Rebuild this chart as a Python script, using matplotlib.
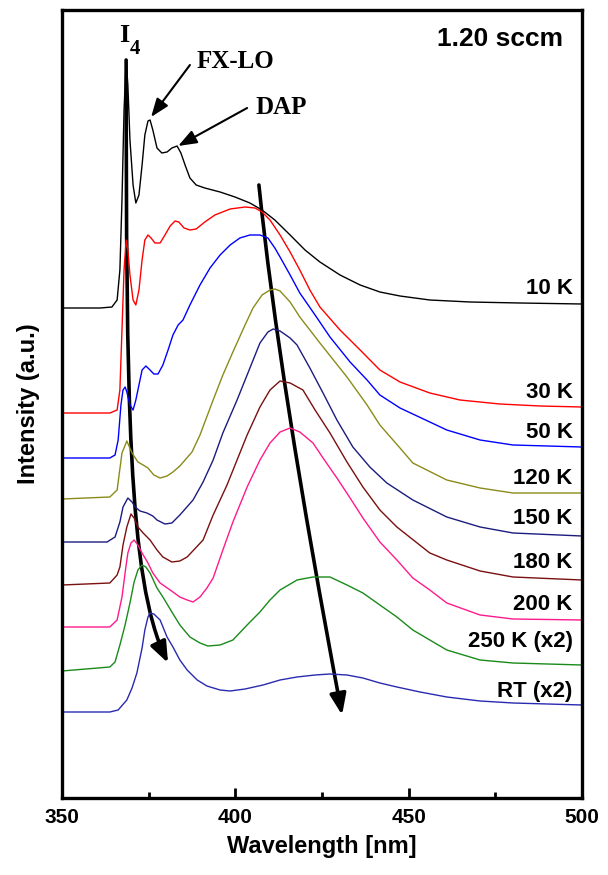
import matplotlib
matplotlib.use("Agg")
import matplotlib.pyplot as plt
from matplotlib.patches import FancyArrowPatch
from matplotlib.path import Path

plt.rcParams['font.family'] = ['Liberation Sans', 'DejaVu Sans']
plt.rcParams['font.weight'] = 'bold'

# PL spectra (wavelength nm, intensity a.u. with vertical offsets)
wl_10k = [350.0, 361.0, 364.4, 365.9, 366.7, 367.3, 367.9, 368.5, 369.0, 369.6, 370.5, 371.3,
          372.2, 373.1, 373.9, 374.8, 375.4, 376.2, 377.4, 378.8, 380.3, 381.7, 383.2, 384.3,
          385.5, 386.9, 388.7, 391.2, 395.6, 399.9, 404.2, 407.7, 411.4, 415.8, 420.1, 424.4,
          430.2, 436.0, 441.7, 447.5, 456.1, 467.7, 482.1, 500.0]
int_10k = [4.89, 4.89, 4.90, 4.97, 5.27, 5.97, 6.87, 7.37, 7.12, 6.57, 6.12, 5.94,
           6.02, 6.32, 6.62, 6.76, 6.77, 6.67, 6.49, 6.44, 6.45, 6.49, 6.51, 6.44,
           6.32, 6.19, 6.12, 6.09, 6.05, 6.00, 5.94, 5.87, 5.77, 5.62, 5.47, 5.35,
           5.22, 5.12, 5.05, 5.01, 4.97, 4.95, 4.94, 4.93]

wl_30k = [350.0, 363.8, 365.9, 366.7, 367.3, 367.9, 368.5, 369.0, 369.6, 370.5, 371.3, 372.2,
          373.1, 373.9, 374.8, 375.7, 376.8, 378.3, 379.7, 381.2, 382.6, 383.7, 385.2, 386.9,
          388.7, 391.2, 394.1, 398.5, 402.8, 405.7, 407.7, 410.0, 412.9, 415.8, 418.6, 421.5,
          424.4, 430.2, 436.0, 441.7, 447.5, 456.1, 464.8, 476.3, 487.9, 500.0]
int_30k = [3.84, 3.84, 3.87, 4.07, 4.67, 5.27, 5.57, 5.47, 5.22, 4.97, 4.92, 5.07,
           5.37, 5.57, 5.62, 5.59, 5.54, 5.54, 5.62, 5.71, 5.76, 5.75, 5.69, 5.67,
           5.68, 5.75, 5.82, 5.88, 5.90, 5.89, 5.85, 5.77, 5.62, 5.45, 5.27, 5.07,
           4.90, 4.67, 4.47, 4.27, 4.15, 4.04, 3.97, 3.93, 3.91, 3.90]

wl_50k = [350.0, 363.8, 365.3, 366.2, 367.0, 367.6, 368.2, 368.7, 369.6, 370.5, 371.3, 372.2,
          373.1, 374.2, 375.4, 376.5, 377.7, 379.1, 380.6, 382.0, 383.5, 384.9, 386.9, 389.8,
          392.7, 395.6, 398.5, 401.3, 404.2, 407.1, 409.4, 411.4, 412.9, 415.8, 418.6, 423.0,
          427.3, 433.1, 438.0, 441.7, 447.5, 456.1, 461.0, 470.6, 480.1, 500.0]
int_50k = [3.39, 3.39, 3.42, 3.57, 3.92, 4.07, 4.10, 4.05, 3.92, 3.87, 3.97, 4.12,
           4.27, 4.31, 4.27, 4.23, 4.23, 4.32, 4.47, 4.62, 4.72, 4.77, 4.92, 5.12,
           5.29, 5.42, 5.52, 5.59, 5.62, 5.62, 5.59, 5.49, 5.40, 5.22, 5.04, 4.82,
           4.60, 4.35, 4.17, 4.02, 3.89, 3.75, 3.67, 3.57, 3.52, 3.50]

wl_120k = [350.0, 363.8, 365.9, 367.3, 368.7, 370.2, 371.9, 373.4, 374.8, 376.5, 378.3, 380.3,
           382.0, 384.0, 387.5, 389.8, 393.6, 396.4, 399.3, 402.8, 405.1, 407.7, 410.0, 411.4,
           412.9, 415.8, 418.6, 424.4, 432.2, 438.0, 441.7, 447.5, 451.2, 461.0, 470.6, 480.1, 500.0]
int_120k = [2.98, 3.00, 3.07, 3.44, 3.56, 3.44, 3.35, 3.32, 3.29, 3.22, 3.19, 3.21,
            3.25, 3.31, 3.45, 3.62, 3.97, 4.22, 4.45, 4.72, 4.89, 5.02, 5.07, 5.08,
            5.06, 4.95, 4.80, 4.54, 4.20, 3.92, 3.72, 3.49, 3.34, 3.17, 3.09, 3.04, 3.04]

wl_150k = [350.0, 363.0, 365.3, 366.7, 367.6, 369.0, 370.2, 371.1, 372.5, 374.5, 376.2, 377.4,
           379.7, 381.7, 384.0, 387.8, 390.7, 393.6, 396.4, 400.5, 403.4, 407.1, 409.4, 410.9,
           412.9, 415.8, 417.8, 421.5, 425.3, 429.3, 433.9, 438.8, 443.7, 451.2, 461.0, 470.6,
           480.1, 500.0]
int_150k = [2.55, 2.55, 2.60, 2.75, 2.90, 2.99, 2.95, 2.90, 2.86, 2.84, 2.81, 2.77,
            2.73, 2.74, 2.82, 2.97, 3.15, 3.37, 3.64, 3.97, 4.22, 4.54, 4.65, 4.68,
            4.66, 4.59, 4.52, 4.29, 4.04, 3.77, 3.50, 3.30, 3.14, 2.97, 2.80, 2.70,
            2.64, 2.61]

wl_180k = [350.0, 363.8, 365.9, 366.7, 367.6, 368.7, 369.9, 370.8, 371.9, 373.4, 375.4, 377.4,
           379.1, 381.7, 384.0, 386.1, 390.7, 393.6, 397.6, 400.5, 403.4, 407.1, 410.0, 412.9,
           415.8, 419.5, 423.0, 427.3, 432.2, 436.8, 441.7, 446.6, 456.1, 461.0, 470.6, 480.1, 500.0]
int_180k = [2.12, 2.14, 2.22, 2.30, 2.52, 2.70, 2.83, 2.79, 2.70, 2.64, 2.57, 2.47,
            2.40, 2.35, 2.36, 2.40, 2.57, 2.82, 3.12, 3.37, 3.62, 3.90, 4.07, 4.16,
            4.14, 4.07, 3.87, 3.64, 3.35, 3.10, 2.87, 2.70, 2.44, 2.37, 2.26, 2.20, 2.17]

wl_200k = [350.0, 363.8, 365.9, 367.3, 368.5, 369.0, 369.9, 370.8, 371.9, 373.1, 374.8, 376.2,
           378.3, 381.2, 384.0, 386.1, 387.8, 389.8, 391.8, 393.6, 396.4, 399.3, 403.4, 407.1,
           410.0, 412.9, 415.8, 418.6, 422.4, 425.3, 429.3, 433.1, 436.8, 441.7, 446.6, 451.2,
           456.1, 461.0, 470.6, 480.1, 500.0]
int_200k = [1.70, 1.70, 1.77, 2.00, 2.32, 2.44, 2.54, 2.57, 2.52, 2.44, 2.34, 2.24,
            2.14, 2.07, 2.00, 1.97, 1.95, 2.00, 2.09, 2.19, 2.47, 2.75, 3.10, 3.37,
            3.54, 3.65, 3.69, 3.65, 3.54, 3.39, 3.19, 2.99, 2.79, 2.55, 2.37, 2.19,
            2.07, 1.94, 1.82, 1.78, 1.77]

wl_250k = [350.0, 363.8, 365.3, 366.7, 368.2, 369.6, 370.8, 371.9, 373.1, 374.2, 375.4, 377.4,
           379.1, 381.7, 384.0, 386.9, 389.8, 392.1, 395.6, 399.3, 403.4, 407.1, 410.0, 412.9,
           417.8, 422.4, 427.3, 432.2, 436.8, 441.7, 446.6, 451.2, 456.1, 461.0, 470.6, 480.1, 500.0]
int_250k = [1.26, 1.30, 1.35, 1.52, 1.72, 1.94, 2.15, 2.27, 2.32, 2.30, 2.24, 2.09,
            2.00, 1.85, 1.72, 1.60, 1.54, 1.51, 1.52, 1.57, 1.72, 1.85, 1.97, 2.07,
            2.17, 2.20, 2.20, 2.12, 2.04, 1.92, 1.80, 1.67, 1.57, 1.47, 1.37, 1.34, 1.32]

wl_rt = [350.0, 363.8, 366.2, 368.7, 370.2, 371.6, 373.1, 373.9, 374.8, 375.4, 376.5, 378.3,
         380.3, 382.0, 384.0, 386.1, 389.0, 391.8, 395.6, 398.5, 402.8, 408.0, 412.9, 417.8,
         423.0, 427.3, 432.2, 436.8, 441.7, 446.6, 453.3, 461.0, 470.6, 480.1, 500.0]
int_rt = [0.85, 0.85, 0.87, 0.97, 1.09, 1.24, 1.49, 1.67, 1.80, 1.84, 1.83, 1.77,
          1.60, 1.50, 1.37, 1.27, 1.17, 1.11, 1.07, 1.06, 1.08, 1.12, 1.17, 1.20,
          1.22, 1.23, 1.22, 1.19, 1.14, 1.10, 1.05, 1.00, 0.96, 0.94, 0.92]

labels = ['10 K', '30 K', '50 K', '120 K', '150 K', '180 K', '200 K', '250 K (x2)', 'RT (x2)']
label_y = [5.09, 4.05, 3.64, 3.18, 2.78, 2.34, 1.93, 1.55, 1.06]
colors = ['#000000', '#ff0000', '#0000ff', '#8b8b1a', '#1c1c80', '#7a1010', '#ff1a8c', '#1a8a1a', '#2a2ab0']
spectra = [(wl_10k, int_10k), (wl_30k, int_30k), (wl_50k, int_50k), (wl_120k, int_120k),
           (wl_150k, int_150k), (wl_180k, int_180k), (wl_200k, int_200k),
           (wl_250k, int_250k), (wl_rt, int_rt)]

fig = plt.figure(figsize=(6.08, 8.75), dpi=100)
ax = fig.add_axes([62/608, 1 - 798/875, 520/608, 788/875])

for (wl, inten), c, lab, ly in zip(spectra, colors, labels, label_y):
    ax.plot(wl, inten, color=c, lw=1.0)
    ax.text(497.3, ly, lab, ha='right', va='center', fontsize=16, fontweight='bold')

ax.set_xlim(350, 500)
ax.set_ylim(-0.01, 7.87)
ax.set_xticks([350, 400, 450, 500])
ax.set_xticks([375, 425, 475], minor=True)
ax.set_yticks([])
ax.tick_params(axis='x', which='major', direction='in', length=7, width=2, pad=7, labelsize=15)
ax.tick_params(axis='x', which='minor', direction='in', length=4, width=2)
for lbl in ax.get_xticklabels():
    lbl.set_fontweight('bold')
for sp in ax.spines.values():
    sp.set_linewidth(2.4)

ax.set_xlabel('Wavelength [nm]', fontsize=17, fontweight='bold', labelpad=6)
ax.set_ylabel('Intensity (a.u.)', fontsize=17, fontweight='bold', labelpad=16)

ax.text(0.963, 0.963, '1.20 sccm', transform=ax.transAxes, ha='right', va='center',
        fontsize=19, fontweight='bold')

# peak labels
serif = ['Liberation Serif', 'DejaVu Serif']
ax.text(367.9, 7.61, 'I', family=serif, fontsize=19, fontweight='bold', ha='center', va='center')
ax.text(371.0, 7.48, '4', family=serif, fontsize=15, fontweight='bold', ha='center', va='center')
ax.text(388.7, 7.36, 'FX-LO', family=serif, fontsize=18, fontweight='bold', ha='left', va='center')
ax.text(405.7, 6.90, 'DAP', family=serif, fontsize=18, fontweight='bold', ha='left', va='center')
small_arrow = dict(arrowstyle='-|>,head_length=0.8,head_width=0.3', color='k', lw=1.5,
                   mutation_scale=14, shrinkA=0, shrinkB=0)
ax.annotate('', xy=(375.7, 6.80), xytext=(386.9, 7.32), arrowprops=small_arrow)
ax.annotate('', xy=(383.5, 6.51), xytext=(403.4, 6.89), arrowprops=small_arrow)

# peak shift guide arrows
left_path = Path([(368.5, 7.37), (368.6, 3.97), (368.9, 2.17), (380.6, 1.34)],
                 [Path.MOVETO, Path.CURVE4, Path.CURVE4, Path.CURVE4])
right_path = Path([(406.8, 6.12), (412.6, 4.15), (430.8, 0.82)],
                  [Path.MOVETO, Path.CURVE3, Path.CURVE3])
for p in (left_path, right_path):
    ax.add_patch(FancyArrowPatch(path=p, arrowstyle='-|>,head_length=0.9,head_width=0.35',
                                 mutation_scale=14, lw=2.6, color='k'))

fig.savefig('out.png', dpi=100)
